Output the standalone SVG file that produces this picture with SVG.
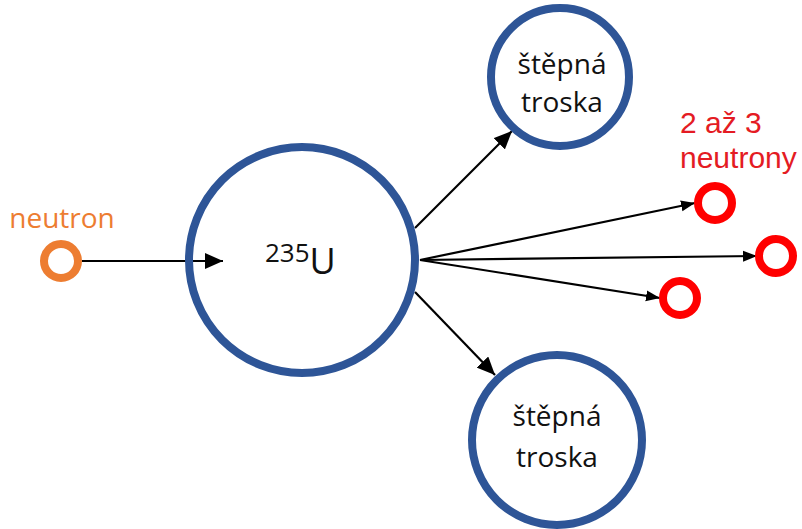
<svg xmlns="http://www.w3.org/2000/svg" width="802" height="529" viewBox="0 0 802 529">
<style>
.nuc{fill:none;stroke:#2E5597;stroke-width:8}
.red{fill:none;stroke:#FF0000;stroke-width:8}
.org{fill:none;stroke:#ED7D31;stroke-width:8}
.lbl{font-family:"Open Sans","Liberation Sans",sans-serif;fill:#111;text-anchor:middle}
.rtx{font-family:"Liberation Sans",Arial,sans-serif;fill:#E41B23;font-size:30px}
.ln{stroke:#000;stroke-width:2.2;fill:none}
</style>
<defs>
<marker id="ab" markerUnits="userSpaceOnUse" markerWidth="18" markerHeight="16" refX="18" refY="8" orient="auto"><path d="M0,0 L18,8 L0,16 z" fill="#000"/></marker>
<marker id="as" markerUnits="userSpaceOnUse" markerWidth="14" markerHeight="12" refX="14" refY="6" orient="auto"><path d="M0,0.5 L14,6 L0,11.5 z" fill="#000"/></marker>
</defs>
<rect width="802" height="529" fill="#fff"/>
<g id="connectors">
<line class="ln" x1="82" y1="261" x2="223" y2="261" marker-end="url(#ab)"/>
<line class="ln" x1="415" y1="228" x2="512" y2="131" marker-end="url(#ab)"/>
<line class="ln" x1="415" y1="292" x2="495" y2="375" marker-end="url(#ab)"/>
<line class="ln" x1="420" y1="260" x2="695" y2="203" marker-end="url(#as)"/>
<line class="ln" x1="420" y1="260" x2="757" y2="256" marker-end="url(#as)"/>
<line class="ln" x1="420" y1="260" x2="660" y2="298" marker-end="url(#as)"/>
</g>
<g id="neutron">
<circle class="org" cx="61" cy="261" r="17"/>
<text x="62" y="228" font-family="Open Sans, Liberation Sans, sans-serif" font-size="28" fill="#ED7D31" text-anchor="middle">neutron</text>
</g>
<g id="uranium">
<circle class="nuc" cx="302" cy="260" r="113"/>
<text x="265" y="274" font-family="Open Sans, Liberation Sans, sans-serif" fill="#111"><tspan font-size="26" dy="-12">235</tspan><tspan font-size="36" dy="12">U</tspan></text>
</g>
<g id="fragment-top">
<circle class="nuc" cx="560" cy="77" r="69"/>
<text class="lbl" x="562" y="74" font-size="28">štěpná</text>
<text class="lbl" x="562" y="112" font-size="28">troska</text>
</g>
<g id="fragment-bottom">
<circle class="nuc" cx="557" cy="440" r="85"/>
<text class="lbl" x="557" y="426" font-size="28">štěpná</text>
<text class="lbl" x="557" y="467" font-size="28">troska</text>
</g>
<g id="neutrons-out">
<text class="rtx" x="680" y="133">2 až 3</text>
<text class="rtx" x="680" y="168">neutrony</text>
<circle class="red" cx="715" cy="203" r="17"/>
<circle class="red" cx="776" cy="256" r="17"/>
<circle class="red" cx="680" cy="298" r="17"/>
</g>
</svg>
